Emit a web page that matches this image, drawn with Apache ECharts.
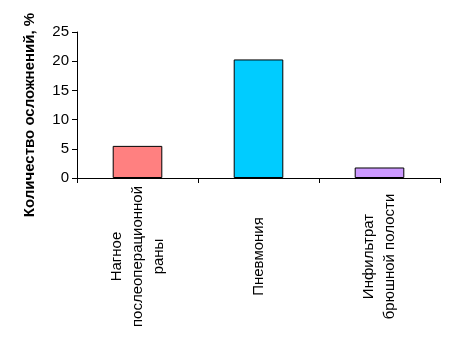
<!DOCTYPE html>
<html><head><meta charset="utf-8">
<script src="https://cdn.jsdelivr.net/npm/echarts@6/dist/echarts.min.js"></script>
<style>html,body{margin:0;padding:0;background:#fff}#c{width:458px;height:350px}</style>
</head><body><div id="c"></div>
<script>
var categories = [["Нагное", "послеоперационной", "раны"], ["Пневмония"], ["Инфильтрат", "брюшной полости"]];
var values = [5.5, 20.3, 1.8];
var colors = ["#FF8080", "#00CCFF", "#CC99FF"];
var yTicks = [0, 5, 10, 15, 20, 25];
var yTitle = "Количество осложнений, %";

var chart = echarts.init(document.getElementById('c'), null, {renderer: 'canvas'});
chart.setOption({
  animation: false,
  backgroundColor: '#fff',
  grid: {left: 77, right: 18, top: 32, bottom: 172},
  xAxis: {
    type: 'category',
    data: categories.map(function (c) { return c.join('\n'); }),
    axisLine: {lineStyle: {color: '#000', width: 1}},
    axisTick: {show: true, alignWithLabel: false, length: 5, lineStyle: {color: '#000'}},
    axisLabel: {
      rotate: 90, interval: 0, margin: 6, color: '#000',
      fontFamily: 'Liberation Sans, Arial', fontSize: 15, lineHeight: 21,
      formatter: function (v) {
        return v.split('\n').map(function (l) { return '{c|' + l + '}'; }).join('\n');
      },
      rich: {c: {width: 145, align: 'center', fontSize: 15, lineHeight: 21, fontFamily: 'Liberation Sans, Arial', color: '#000'}}
    }
  },
  yAxis: {
    type: 'value', min: yTicks[0], max: yTicks[yTicks.length - 1], interval: 5,
    name: yTitle, nameLocation: 'middle', nameGap: 40,
    nameTextStyle: {fontFamily: 'Liberation Sans, Arial', fontWeight: 'bold', fontSize: 15, color: '#000', padding: [0, 20, 0, 0]},
    axisLine: {show: true, lineStyle: {color: '#000', width: 1}},
    axisTick: {show: true, length: 5, inside: false, lineStyle: {color: '#000'}},
    axisLabel: {color: '#000', fontFamily: 'Liberation Sans, Arial', fontSize: 15, margin: 8},
    splitLine: {show: false}
  },
  series: [{
    type: 'bar',
    data: values.map(function (v, i) { return {value: v, itemStyle: {color: colors[i]}}; }),
    barWidth: '41%',
    itemStyle: {borderColor: '#000', borderWidth: 1}
  }]
});
</script></body></html>
